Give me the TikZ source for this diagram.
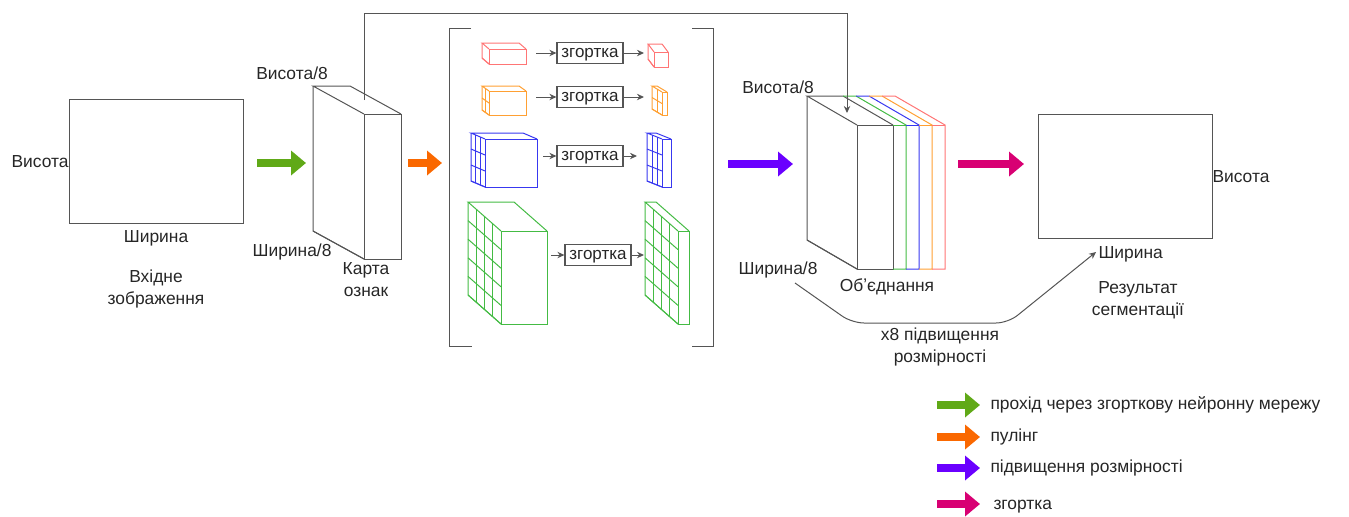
\documentclass[tikz,border=0pt]{standalone}
\usepackage{fontspec}
\setmainfont{Liberation Sans}
\usetikzlibrary{arrows.meta}

\definecolor{grn}{HTML}{60A917}
\definecolor{orng}{HTML}{FA6800}
\definecolor{vlt}{HTML}{6A00FF}
\definecolor{mgnt}{HTML}{D80073}
\definecolor{cubered}{HTML}{FF7575}
\definecolor{cubeorange}{HTML}{FFA033}
\definecolor{cubeblue}{HTML}{3838F0}
\definecolor{cubegreen}{HTML}{44BB44}
\definecolor{edge}{HTML}{555555}

% front face (x1,y1)-(x2,y2), depth (dx,dy), grid on the side face
\newcommand{\cuboid}[9]{%
  \draw[#1] (#2,#3) rectangle (#4,#5);
  \draw[#1] (#2,#3) -- ({#2-#6},{#3-#7}) -- ({#4-#6},{#3-#7}) -- (#4,#3);
  \draw[#1] ({#2-#6},{#3-#7}) -- ({#2-#6},{#5-#7}) -- (#2,#5);
  \foreach \i in {1,...,#8}
    \draw[#1] ({#2-#6+\i*#6/#8},{#3-#7+\i*#7/#8}) -- ({#2-#6+\i*#6/#8},{#5-#7+\i*#7/#8});
  \foreach \j in {1,...,#9}
    \draw[#1] ({#2-#6},{#3-#7+\j*(#5-#3)/#9}) -- (#2,{#3+\j*(#5-#3)/#9});
}

\tikzset{
  lbl/.style={font=\fontsize{8.7}{11}\selectfont, text=black!85, inner sep=0pt, align=center},
  convbox/.style={draw=edge, line width=0.6pt, minimum width=33pt, minimum height=10.5pt,
    inner sep=0pt, text height=5.5pt, text depth=1.2pt,
    font=\fontsize{8.5}{10}\selectfont, text=black!85},
  fat/.style={line width=4pt, -{Triangle[length=7.5pt,width=12pt]}},
  thin/.style={draw=edge, line width=0.5pt, -{Stealth[length=3.5pt,width=3.2pt]}}
}

\begin{document}
\begin{tikzpicture}[x=0.5pt,y=-0.5pt, line width=0.5pt]
\useasboundingbox (0,0) rectangle (1349,516);

\coordinate (A) at (69,99);
\coordinate (B) at (243,223);
\draw[edge] (A) rectangle (B);
\node[lbl,anchor=east] (hin) at (69,162) {Висота};
\node[lbl] (win) at (156,238) {Ширина};
\node[lbl] (tin) at (156,289) {Вхідне\\зображення};

\coordinate (g1) at (257,163);
\coordinate (g2) at (306,163);
\draw[fat,grn] (g1) -- (g2);

\cuboid{edge}{364}{114}{401}{259}{51}{28}{1}{1}
\node[lbl] (hfm) at (292,73) {Висота/8};
\node[lbl] (wfm) at (292,252) {Ширина/8};
\node[lbl] (tfm) at (366,280) {Карта\\ознак};

\coordinate (o1) at (408,163);
\coordinate (o2) at (442,163);
\draw[fat,orng] (o1) -- (o2);

\draw[edge] (471,28) -- (449,28) -- (449,346) -- (472,346);
\draw[edge] (692,28) -- (713,28) -- (713,346) -- (692,346);

\cuboid{cubered}{489}{49}{526}{64}{7}{6}{1}{1}
\cuboid{cubered}{654}{52}{668}{67}{6}{8}{1}{1}
\cuboid{cubeorange}{489}{91}{526}{115}{7}{5}{2}{2}
\cuboid{cubeorange}{662}{92}{667}{115}{10}{6}{2}{2}
\cuboid{cubeblue}{485}{139}{537}{187}{14}{6}{3}{3}
\cuboid{cubeblue}{662}{139}{671}{187}{15}{6}{3}{3}
\cuboid{cubegreen}{501}{231}{547}{324}{33}{29}{4}{5}
\cuboid{cubegreen}{678}{231}{689}{324}{33}{29}{4}{5}

\node[convbox] (conv1) at (590,53) {згортка};
\node[convbox] (conv2) at (590,97) {згортка};
\node[convbox] (conv3) at (590,156) {згортка};
\node[convbox] (conv4) at (598,255) {згортка};

\coordinate (r1a) at (536,53);
\coordinate (r1b) at (644,53);
\coordinate (r2a) at (536,97);
\coordinate (r2b) at (644,97);
\coordinate (r3a) at (543,156);
\coordinate (r3b) at (637,156);
\coordinate (r4a) at (551,255);
\coordinate (r4b) at (644,255);
\draw[thin] (r1a) -- (conv1);
\draw[thin] (conv1) -- (r1b);
\draw[thin] (r2a) -- (conv2);
\draw[thin] (conv2) -- (r2b);
\draw[thin] (r3a) -- (conv3);
\draw[thin] (conv3) -- (r3b);
\draw[thin] (r4a) -- (conv4);
\draw[thin] (conv4) -- (r4b);

\coordinate (v1) at (728,164);
\coordinate (v2) at (793,164);
\draw[fat,vlt] (v1) -- (v2);

\cuboid{edge}{857}{125}{893}{269}{50}{29}{1}{1}
\foreach \c [count=\k] in {cubegreen,cubeblue,cubeorange,cubered}{
  \pgfmathsetmacro{\L}{893+(\k-1)*13}
  \draw[\c] ({\L-50},96) -- ({\L-37},96) -- ({\L+13},125) -- ({\L+13},269) -- (\L,269);
  \draw[\c] (\L,125) -- ({\L+13},125);
}
\node[lbl] (hcat) at (778,87) {Висота/8};
\node[lbl] (wcat) at (778,270) {Ширина/8};
\node[lbl] (tcat) at (887,287) {Обʼєднання};

\coordinate (skipA) at (364,100);
\coordinate (skipTop) at (847,13);
\coordinate (skipB) at (847,113);
\draw[thin] (skipA) |- (skipTop) -- (skipB);

\coordinate (m1) at (958,164);
\coordinate (m2) at (1024,164);
\draw[fat,mgnt] (m1) -- (m2);

\coordinate (C) at (1038,114);
\coordinate (D) at (1212,238);
\draw[edge] (C) rectangle (D);
\node[lbl,anchor=west] (hout) at (1212,177) {Висота};
\node[lbl,anchor=west] (wout) at (1098,254) {Ширина};
\node[lbl] (tout) at (1138,300) {Результат\\сегментації};

\coordinate (upA) at (795,283);
\coordinate (upB) at (1096,252);
\draw[thin, rounded corners=6pt] (upA) -- (852,323) -- (1008,323) -- (upB);
\node[lbl] (tup) at (940,347) {x8 підвищення\\розмірності};

\node[lbl,anchor=west] (lg1) at (990,405) {прохід через згорткову нейронну мережу};
\node[lbl,anchor=west] (lg2) at (990,437) {пулінг};
\node[lbl,anchor=west] (lg3) at (990,468) {підвищення розмірності};
\node[lbl,anchor=west] (lg4) at (993,507) {згортка};
\draw[fat,grn] (937,405) -- ([xshift=-5pt]lg1.west);
\draw[fat,orng] (937,437) -- ([xshift=-5pt]lg2.west);
\draw[fat,vlt] (937,468) -- ([xshift=-5pt]lg3.west);
\draw[fat,mgnt] (937,504) -- ([xshift=-6.5pt]lg4.west |- 0,504);

\end{tikzpicture}
\end{document}
